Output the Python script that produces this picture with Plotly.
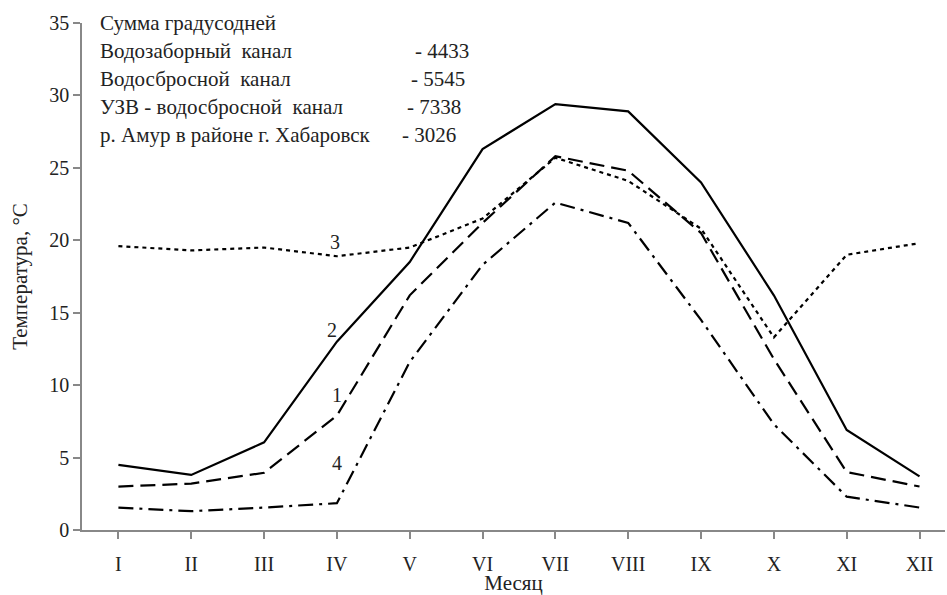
import plotly.graph_objects as go

months = ["I", "II", "III", "IV", "V", "VI", "VII", "VIII", "IX", "X", "XI", "XII"]

# 1 - водозаборный канал
intake = [3.0, 3.2, 3.95, 7.9, 16.2, 21.2, 25.8, 24.8, 20.5, 11.8, 4.0, 3.0]
# 2 - УЗВ - водосбросной канал
ras = [4.5, 3.8, 6.05, 13.0, 18.5, 26.3, 29.4, 28.9, 24.0, 16.2, 6.9, 3.7]
# 3 - водосбросной канал
discharge = [19.6, 19.3, 19.5, 18.9, 19.5, 21.5, 25.7, 24.1, 20.8, 13.3, 19.0, 19.8]
# 4 - р. Амур в районе г. Хабаровск
amur = [1.55, 1.3, 1.55, 1.85, 11.6, 18.3, 22.6, 21.2, 14.5, 7.3, 2.3, 1.55]

legend_title = "Сумма градусодней"
legend_names = ["Водозаборный  канал", "Водосбросной  канал",
                "УЗВ - водосбросной  канал", "р. Амур в районе г. Хабаровск"]
legend_sums = ["- 4433", "- 5545", "- 7338", "- 3026"]

FONT = "'Liberation Serif', 'Times New Roman', Times, serif"
FS = 20
FS_TXT = 21
W, H = 947, 595
L, R, T, B = 82, 2, 23, 65

fig = go.Figure()
styles = [
    (intake, "15px,7px"),
    (ras, "solid"),
    (discharge, "4px,4px"),
    (amur, "15px,6px,3px,6px"),
]
for ys, dash in styles:
    fig.add_trace(go.Scatter(
        x=list(range(len(months))), y=ys, mode="lines",
        line=dict(color="black", width=2.2, dash=dash),
        showlegend=False, hoverinfo="skip"))

# series numbers next to the curves
curve_labels = [("3", 2.98, 19.9), ("2", 2.93, 13.8), ("1", 3.0, 9.3), ("4", 3.0, 4.6)]
annotations = []
for txt, xv, yv in curve_labels:
    annotations.append(dict(x=xv, y=yv, xref="x", yref="y", text=txt, showarrow=False,
                            font=dict(family=FONT, size=FS, color="#222")))


def px_x(p):
    return (p - L) / (W - L - R)


def px_y(p):
    return 1 - (p - T) / (H - T - B)


annotations.append(dict(x=px_x(98), y=px_y(23), xref="paper", yref="paper",
                        xanchor="left", yanchor="middle", text=legend_title,
                        showarrow=False, font=dict(family=FONT, size=FS_TXT, color="#222")))
sum_x = [413, 409, 405, 400]
for i, (name, s) in enumerate(zip(legend_names, legend_sums)):
    yy = 51 + 28 * i
    annotations.append(dict(x=px_x(98), y=px_y(yy), xref="paper", yref="paper",
                            xanchor="left", yanchor="middle", text=name,
                            showarrow=False, font=dict(family=FONT, size=FS_TXT, color="#222")))
    annotations.append(dict(x=px_x(sum_x[i]), y=px_y(yy), xref="paper", yref="paper",
                            xanchor="left", yanchor="middle", text=s,
                            showarrow=False, font=dict(family=FONT, size=FS_TXT, color="#222")))

fig.update_layout(
    width=W, height=H,
    margin=dict(l=L, r=R, t=T, b=B),
    paper_bgcolor="white", plot_bgcolor="white",
    font=dict(family=FONT, size=FS, color="#222"),
    annotations=annotations,
    xaxis=dict(
        tickmode="array", tickvals=list(range(len(months))), ticktext=months,
        range=[-0.5, 11.35], showgrid=False, zeroline=False,
        showline=True, linecolor="#888", linewidth=1.5,
        ticks="outside", ticklen=7, tickcolor="#888", tickwidth=1.5,
        tickson="boundaries", ticklabelstandoff=8,
        title=dict(text="Месяц", font=dict(family=FONT, size=FS_TXT), standoff=4),
        tickfont=dict(family=FONT, size=FS),
    ),
    yaxis=dict(
        range=[0, 35], dtick=5, showgrid=False, zeroline=False,
        showline=True, linecolor="#888", linewidth=1.5,
        ticks="outside", ticklen=7, tickcolor="#888", tickwidth=1.5,
        ticklabelstandoff=0,
        title=dict(text="Температура, °C", font=dict(family=FONT, size=FS_TXT), standoff=16),
        tickfont=dict(family=FONT, size=FS),
    ),
)

fig.write_html("out.html")
